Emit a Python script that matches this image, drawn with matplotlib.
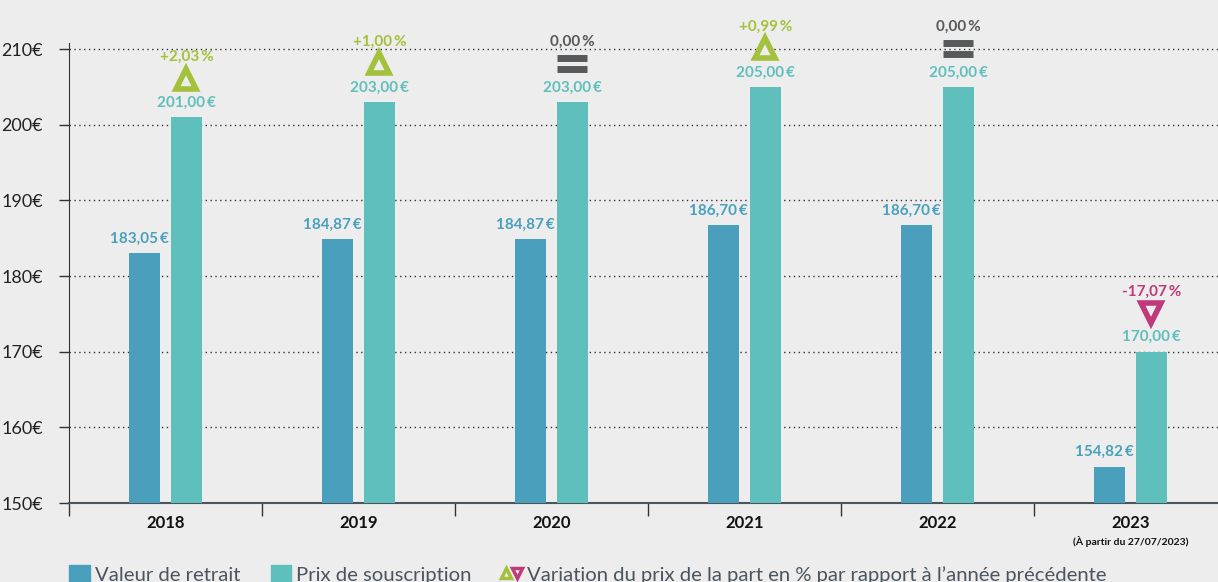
import matplotlib.pyplot as plt
import numpy as np
from matplotlib.lines import Line2D
from matplotlib.patches import Patch
from matplotlib.legend_handler import HandlerTuple

plt.rcParams['font.family'] = ['Lato', 'DejaVu Sans']

annees = ['2018', '2019', '2020', '2021', '2022', '2023']
retrait = [183.05, 184.87, 184.87, 186.70, 186.70, 154.82]
souscription = [201.00, 203.00, 203.00, 205.00, 205.00, 170.00]
variation = [2.03, 1.00, 0.00, 0.99, 0.00, -17.07]

bg = '#ededed'
c_ret = '#4aa0bc'
c_sous = '#5fbfbc'
c_up = '#a3c13a'
c_down = '#c0397a'
c_eq = '#58595b'

def fr(v, dec=2):
    return f'{v:.{dec}f}'.replace('.', ',')

fig = plt.figure(figsize=(12.18, 5.82), dpi=100, facecolor=bg)
ax = fig.add_axes([0.0567, 0.1357, 0.9433, 0.7903], facecolor=bg)

x = np.arange(len(annees))
w = 0.16
off = 0.108
ax.bar(x - off, retrait, w, color=c_ret, zorder=3)
ax.bar(x + off, souscription, w, color=c_sous, zorder=3)

for i in range(len(annees)):
    ax.text(x[i] - off - 0.03, retrait[i] + 1.0, fr(retrait[i]) + '\u2009€', ha='center', va='bottom',
            color=c_ret, fontsize=11, fontweight='bold')
    ax.text(x[i] + off, souscription[i] + 1.0, fr(souscription[i]) + '\u2009€', ha='center', va='bottom',
            color=c_sous, fontsize=11, fontweight='bold')
    v = variation[i]
    my = souscription[i] + 5.1
    if v > 0:
        col = c_up
        ax.plot(x[i] + off, my, marker='^', ms=14, mfc=bg, mec=col, mew=4, clip_on=False, zorder=4)
        lab = '+' + fr(v) + '\u2009%'
    elif v < 0:
        col = c_down
        ax.plot(x[i] + off, my, marker='v', ms=14, mfc=bg, mec=col, mew=4, clip_on=False, zorder=4)
        lab = fr(v) + '\u2009%'
    else:
        col = c_eq
        ax.plot(x[i] + off, my + 0.7, marker='_', ms=22, mew=5, color=col, clip_on=False, zorder=4)
        ax.plot(x[i] + off, my - 0.7, marker='_', ms=22, mew=5, color=col, clip_on=False, zorder=4)
        lab = fr(v) + '\u2009%'
    ax.text(x[i] + off, my + 1.9, lab, ha='center', va='bottom', color=col,
            fontsize=11, fontweight='bold', clip_on=False)

ax.set_ylim(150, 210.8)
ax.set_xlim(-0.5, 5.453)
ax.set_yticks([150, 160, 170, 180, 190, 200, 210])
ax.set_yticklabels([f'{t}€' for t in range(150, 211, 10)], fontsize=13, color='#222222')
ax.yaxis.grid(True, linestyle=(0, (1, 2.5)), color='#333333', linewidth=1, zorder=0)
ax.tick_params(axis='y', length=7, width=1, color='#333333', pad=12)

ax.set_xticks(np.arange(-0.5, 5.0, 1.0))
ax.set_xticklabels([])
ax.tick_params(axis='x', length=9, width=1, color='#333333')
for i, a in enumerate(annees):
    ax.text(x[i], -0.027, a, transform=ax.get_xaxis_transform(), ha='center', va='top',
            fontsize=12, fontweight='bold', color='#111111')
ax.text(x[5], -0.072, '(À partir du 27/07/2023)', transform=ax.get_xaxis_transform(),
        ha='center', va='top', fontsize=7.5, fontweight='bold', color='#111111')

for s in ['top', 'right']:
    ax.spines[s].set_visible(False)
ax.spines['left'].set_color('#333333')
ax.spines['bottom'].set_color('#4a5560')
ax.spines['bottom'].set_linewidth(1.5)

handles = [Patch(color=c_ret), Patch(color=c_sous),
           (Line2D([], [], marker='^', ls='', ms=7, mfc=bg, mec=c_up, mew=2.5),
            Line2D([], [], marker='v', ls='', ms=7, mfc=bg, mec=c_down, mew=2.5))]
labels = ['Valeur de retrait', 'Prix de souscription',
          "Variation du prix de la part en % par rapport à l’année précédente"]
fig.legend(handles, labels, loc='lower left', bbox_to_anchor=(0.042, -0.035), ncol=3, frameon=False,
           labelcolor='#4a5560', handlelength=1.0, handleheight=1.0,
           handletextpad=0.25, columnspacing=1.5,
           prop={'size': 14.6},
           handler_map={tuple: HandlerTuple(ndivide=None, pad=0.1)})

fig.savefig('out.png', dpi=100, facecolor=bg)
